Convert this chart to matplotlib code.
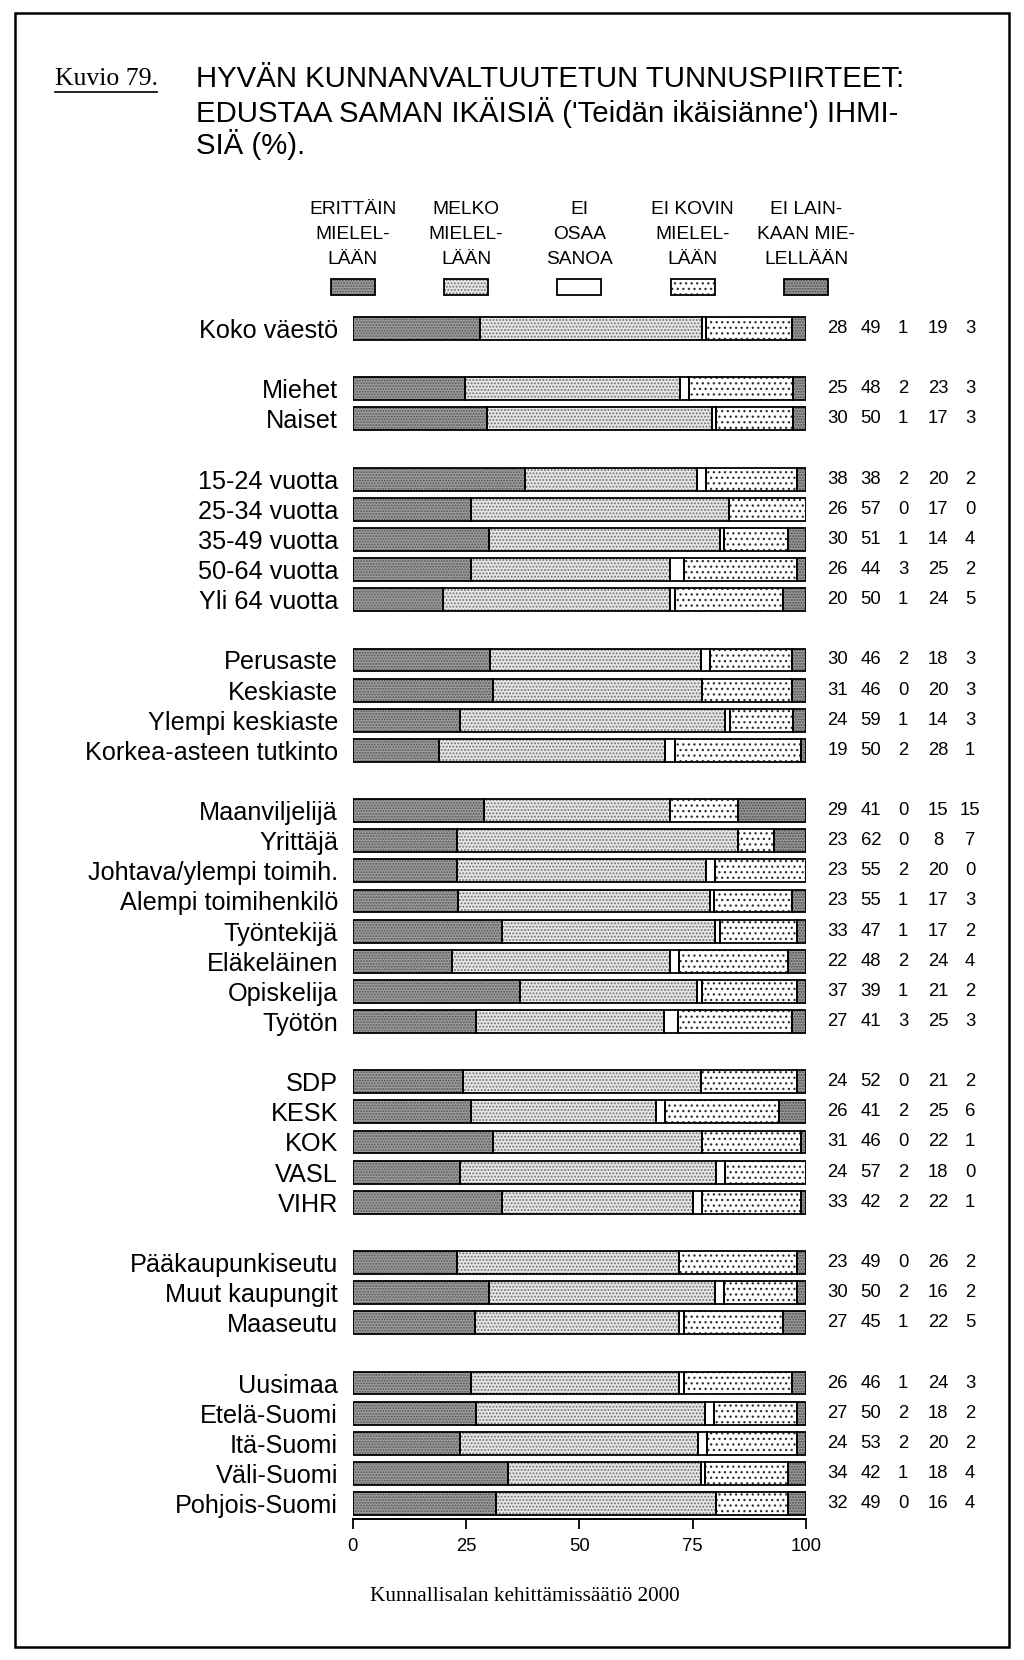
import matplotlib
matplotlib.use("Agg")
import matplotlib.pyplot as plt
from matplotlib import transforms, font_manager
from matplotlib.patches import Rectangle
from matplotlib.lines import Line2D
import numpy as np

# ---------------- data ----------------
categories = [
    "Koko väestö",
    "Miehet", "Naiset",
    "15-24 vuotta", "25-34 vuotta", "35-49 vuotta", "50-64 vuotta", "Yli 64 vuotta",
    "Perusaste", "Keskiaste", "Ylempi keskiaste", "Korkea-asteen tutkinto",
    "Maanviljelijä", "Yrittäjä", "Johtava/ylempi toimih.", "Alempi toimihenkilö",
    "Työntekijä", "Eläkeläinen", "Opiskelija", "Työtön",
    "SDP", "KESK", "KOK", "VASL", "VIHR",
    "Pääkaupunkiseutu", "Muut kaupungit", "Maaseutu",
    "Uusimaa", "Etelä-Suomi", "Itä-Suomi", "Väli-Suomi", "Pohjois-Suomi",
]
group_sizes = [1, 2, 5, 4, 8, 5, 3, 5]

erittain    = [28, 25, 30, 38, 26, 30, 26, 20, 30, 31, 24, 19, 29, 23, 23, 23, 33, 22, 37, 27, 24, 26, 31, 24, 33, 23, 30, 27, 26, 27, 24, 34, 32]
melko       = [49, 48, 50, 38, 57, 51, 44, 50, 46, 46, 59, 50, 41, 62, 55, 55, 47, 48, 39, 41, 52, 41, 46, 57, 42, 49, 50, 45, 46, 50, 53, 42, 49]
ei_osaa     = [1, 2, 1, 2, 0, 1, 3, 1, 2, 0, 1, 2, 0, 0, 2, 1, 1, 2, 1, 3, 0, 2, 0, 2, 2, 0, 2, 1, 1, 2, 2, 1, 0]
ei_kovin    = [19, 23, 17, 20, 17, 14, 25, 24, 18, 20, 14, 28, 15, 8, 20, 17, 17, 24, 21, 25, 21, 25, 22, 18, 22, 26, 16, 22, 24, 18, 20, 18, 16]
ei_lainkaan = [3, 3, 3, 2, 0, 4, 2, 5, 3, 3, 3, 1, 15, 7, 0, 3, 2, 4, 2, 3, 2, 6, 1, 0, 1, 2, 2, 5, 3, 2, 2, 4, 4]

legend_labels = ["ERITTÄIN\nMIELEL-\nLÄÄN", "MELKO\nMIELEL-\nLÄÄN", "EI\nOSAA\nSANOA",
                 "EI KOVIN\nMIELEL-\nLÄÄN", "EI LAIN-\nKAAN MIE-\nLELLÄÄN"]
x_ticks = [0, 25, 50, 75, 100]

title_lines = ["HYVÄN KUNNANVALTUUTETUN TUNNUSPIIRTEET:",
               "EDUSTAA SAMAN IKÄISIÄ ('Teidän ikäisiänne') IHMI-",
               "SIÄ (%)."]
figure_label = "Kuvio 79."
footer = "Kunnallisalan kehittämissäätiö 2000"

# ---------------- layout ----------------
W, H = 1024, 1660
fig = plt.figure(figsize=(W / 100, H / 100), dpi=100)
fig.patch.set_facecolor("white")

names = {f.name for f in font_manager.fontManager.ttflist}
narrow = "Liberation Sans Narrow" in names
title_family = "Liberation Sans Narrow" if narrow else "Liberation Sans"
title_size = 25 if narrow else 21.2
sans = "Liberation Sans"
serif = "Liberation Serif"

ax_left, ax_right = 352.7, 806.0
ax_top, ax_bottom = 313.5, 1519.0
ax = fig.add_axes([ax_left / W, 1 - ax_bottom / H, (ax_right - ax_left) / W, (ax_bottom - ax_top) / H])

pos = []
slot = 0
for g in group_sizes:
    for _ in range(g):
        pos.append(slot)
        slot += 1
    slot += 1
pos = np.array(pos, dtype=float)

series = np.array([erittain, melko, ei_osaa, ei_kovin, ei_lainkaan], dtype=float)
shares = series / series.sum(axis=0) * 100.0

plt.rcParams["hatch.linewidth"] = 0.9
styles = [
    dict(fc="#9c9c9c", hc="#555555", hatch="......"),
    dict(fc="#e6e6e6", hc="#707070", hatch="....."),
    dict(fc="white", hc="white", hatch=None),
    dict(fc="white", hc="#303030", hatch="..."),
    dict(fc="#999999", hc="#4a4a4a", hatch="......"),
]

bar_h = 0.76
left = np.zeros(len(categories))
for k in range(5):
    st = styles[k]
    ax.barh(pos, shares[k], left=left, height=bar_h, color=st["fc"],
            edgecolor=st["hc"], hatch=st["hatch"], linewidth=0, zorder=2)
    ax.barh(pos, shares[k], left=left, height=bar_h, fill=False,
            edgecolor="black", linewidth=1.3, zorder=3)
    left += shares[k]

ax.set_xlim(0, 100)
ax.set_ylim(39.514, -0.5)
ax.set_yticks(pos, categories)
ax.tick_params(axis="y", length=0, pad=10.5, labelsize=18.2)
for lab in ax.get_yticklabels():
    lab.set_fontfamily(sans)
ax.set_xticks(x_ticks, [str(t) for t in x_ticks])
ax.tick_params(axis="x", length=7, width=1.3, direction="out", pad=7, labelsize=13.3)
for lab in ax.get_xticklabels():
    lab.set_fontfamily(sans)
for s in ["left", "right", "top"]:
    ax.spines[s].set_visible(False)
ax.spines["bottom"].set_bounds(0, 100)
ax.spines["bottom"].set_linewidth(1.4)
ax.patch.set_visible(False)

# value columns
col_x = [107.0, 114.3, 121.4, 129.1, 136.2]
for i, y in enumerate(pos):
    for k in range(5):
        ax.text(col_x[k], y, str(int(series[k][i])), ha="center", va="center",
                fontsize=13.3, family=sans, clip_on=False)

# legend
blend = transforms.blended_transform_factory(ax.transData, fig.transFigure)
px_per_unit = (ax_right - ax_left) / 100.0
sw_w = 44 / px_per_unit
for k in range(5):
    cx = x_ticks[k]
    ax.text(cx, 1 - 234.5 / H, legend_labels[k], transform=blend, ha="center", va="center",
            multialignment="center", fontsize=13.8, family=sans, linespacing=1.64, clip_on=False)
    st = styles[k]
    r1 = Rectangle((cx - sw_w / 2, 1 - 295.5 / H), sw_w, 16 / H, transform=blend,
                   facecolor=st["fc"], edgecolor=st["hc"], hatch=st["hatch"], linewidth=0, clip_on=False)
    r2 = Rectangle((cx - sw_w / 2, 1 - 295.5 / H), sw_w, 16 / H, transform=blend,
                   fill=False, edgecolor="black", linewidth=1.3, clip_on=False)
    ax.add_patch(r1)
    ax.add_patch(r2)

# title
for j, line in enumerate(title_lines):
    fig.text(196 / W, 1 - (79.4 + 32.8 * j) / H, line, ha="left", va="center",
             fontsize=title_size, family=title_family)
fig.text(55 / W, 1 - 79.4 / H, figure_label, ha="left", va="center", fontsize=18.5, family=serif)
fig.add_artist(Line2D([55 / W, 157 / W], [1 - 92 / H, 1 - 92 / H], color="black", linewidth=1.2))

# footer
fig.text(525 / W, 1 - 1596 / H, footer, ha="center", va="center", fontsize=15.3, family=serif)

# frame
fig.add_artist(Rectangle((15 / W, 1 - 1647 / H), (1009 - 15) / W, (1647 - 13) / H,
                         transform=fig.transFigure, fill=False, edgecolor="black", linewidth=1.8))

fig.savefig("out.png", dpi=100)
